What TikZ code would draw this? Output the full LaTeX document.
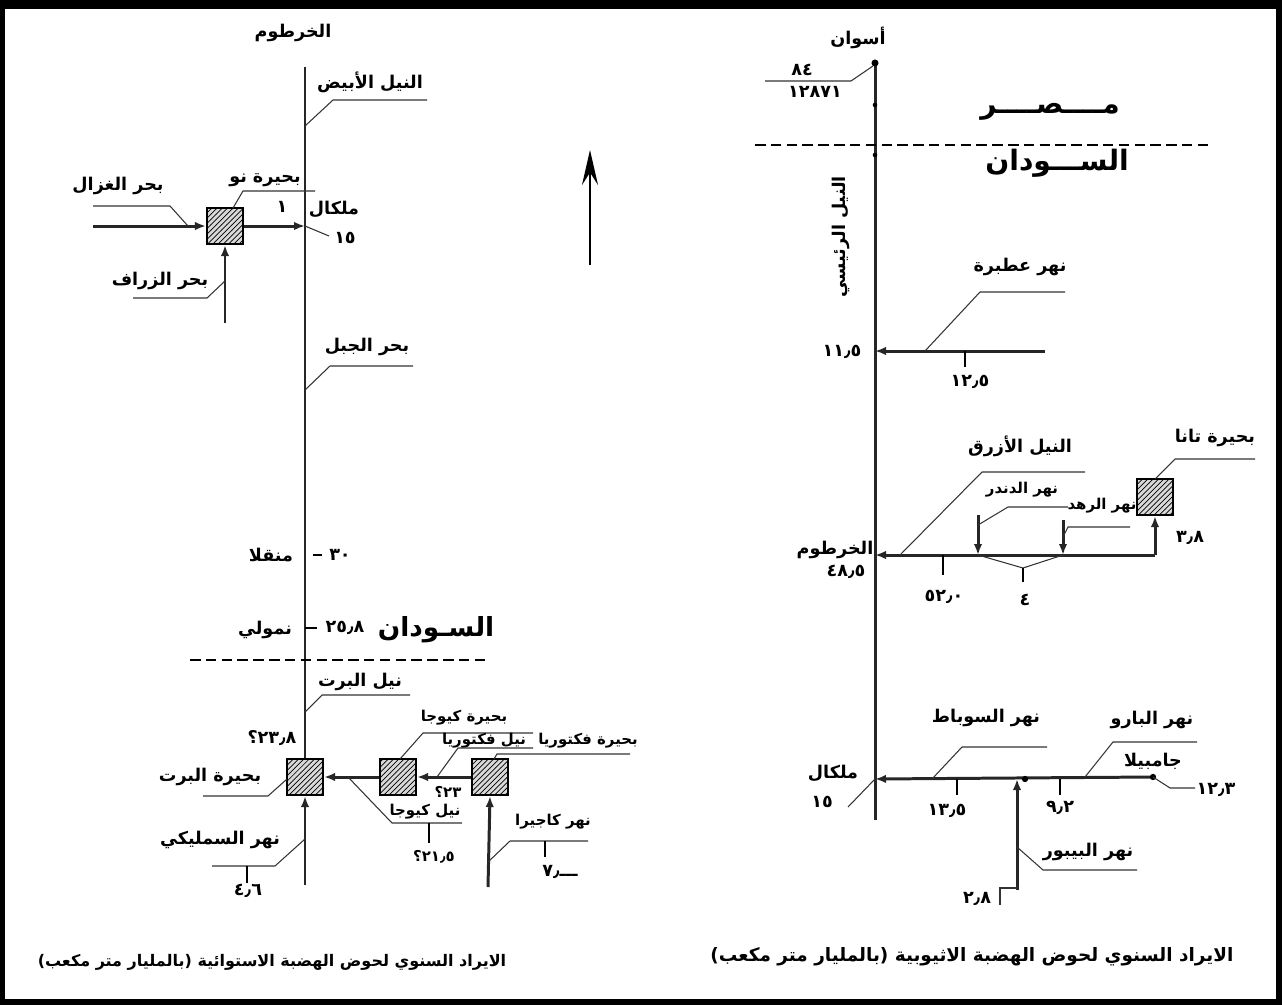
\documentclass[tikz,border=0pt]{standalone}
\usepackage{fontspec}
\usetikzlibrary{arrows.meta,patterns}
\newfontfamily\arabicfont[Script=Arabic]{DejaVu Sans}
\TeXXeTstate=1
\newcommand{\atxt}[1]{{\arabicfont\beginR #1\endR}}
\newcommand{\anum}[1]{{\arabicfont #1}}

\begin{document}
\begin{tikzpicture}[x=0.02cm,y=-0.02cm,
  lbl/.style={inner sep=0pt,font=\fontsize{10}{12}\selectfont\bfseries},
  sm/.style={lbl,font=\fontsize{8.5}{10}\selectfont\bfseries},
  big/.style={inner sep=0pt,font=\fontsize{16}{19}\selectfont\bfseries},
  captxt/.style={inner sep=0pt,font=\fontsize{10.5}{13}\selectfont\bfseries},
  riv/.style={line width=1.7pt,black!85},
  ld/.style={line width=0.6pt,black!80},
  tk/.style={line width=1pt},
  ar/.style={-{Latex[length=2.2mm,width=1.7mm]}},
  lake/.style={draw,line width=1.2pt,minimum size=0.72cm,inner sep=0pt,fill=gray!30,postaction={pattern=north east lines}},
  bord/.style={dashed,dash pattern=on 6pt off 3pt,line width=0.7pt}]
\useasboundingbox (0,0) rectangle (1282,1005);
% frame
\fill (0,0) rectangle (1282,9);
\draw[line width=3pt] (2,3) rectangle (1279,1002);

% ---------------- left: equatorial plateau
\coordinate (wtop) at (305,67);
\coordinate (wbot) at (305,885);
\node[lake] (no) at (225,226) {};
\node[lake] (albert) at (305,777) {};
\node[lake] (kyoga) at (398,777) {};
\node[lake] (victoria) at (490,777) {};
\coordinate (mk) at (305,226);
\coordinate (gz) at (93,226);
\coordinate (zr) at (225,323);
\coordinate (kg) at (488,887);
\draw[riv] (wtop) -- (albert.north);
\draw[riv,ar] (wbot) -- (albert.south);
\draw[riv,ar] (gz) -- (no.west);
\draw[riv,ar] (no.east) -- (mk);
\draw[riv,ar] (zr) -- (no.south);
\draw[riv,ar] (kyoga.west) -- (albert.east);
\draw[riv,ar] (victoria.west) -- (kyoga.east);
\draw[riv,ar] (kg) -- (victoria.south);

\node[lbl] (khl) at (293,33) {\atxt{الخرطوم}};
\node[lbl] (wn) at (370,82) {\atxt{النيل الأبيض}};
\draw[ld] (305,126) -- ++(28,-26) -- ++(94,0);
\node[lbl] (nol) at (265,180) {\atxt{بحيرة نو}};
\draw[ld] (233,208) -- ++(10,-17) -- ++(72,0);
\node[lbl] (gzl) at (118,186) {\atxt{بحر الغزال}};
\draw[ld] (188,226) -- ++(-18,-20) -- ++(-77,0);
\node[lbl] (one) at (282,207) {\anum{١}};
\node[lbl] (mkl) at (334,209) {\atxt{ملكال}};
\node[lbl] (mkn) at (345,238) {\anum{١٥}};
\draw[ld] (mk) -- (329,236);
\node[lbl] (zrl) at (160,281) {\atxt{بحر الزراف}};
\draw[ld] (225,281) -- ++(-18,17) -- ++(-74,0);
\node[lbl] (jbl) at (367,347) {\atxt{بحر الجبل}};
\draw[ld] (305,390) -- ++(25,-24) -- ++(83,0);
\draw[tk] (313,555) -- (322,555);
\node[lbl] (n30) at (340,555) {\anum{٣٠}};
\node[lbl] (mgl) at (271,555) {\atxt{منقلا}};
\draw[tk] (305,628) -- (317,628);
\node[lbl] (n258) at (345,628) {\anum{٢٥٫٨}};
\node[lbl] (nml) at (265,630) {\atxt{نمولي}};
\node[big,font=\fontsize{15}{18}\selectfont\bfseries] (sdl) at (436,630) {\atxt{السـودان}};
\draw[bord] (190,660) -- (487,660);
\node[lbl] (anl) at (360,682) {\atxt{نيل البرت}};
\draw[ld] (305,712) -- ++(17,-17) -- ++(88,0);
\node[lbl] (n238) at (272,738) {\anum{\hbox{؟}\hbox{٢٣٫٨}}};
\node[lbl] (all) at (210,777) {\atxt{بحيرة البرت}};
\draw[ld] (287,779) -- ++(-19,17) -- ++(-65,0);
\node[sm] (kgn) at (425,812) {\atxt{نيل كيوجا}};
\draw[ld] (348,777) -- ++(44,46) -- ++(70,0);
\draw[tk] (429,823) -- (429,843);
\node[sm] (n215) at (434,857) {\anum{\hbox{؟}\hbox{٢١٫٥}}};
\node[sm] (n32) at (448,792) {\anum{\hbox{؟}\hbox{٢٣}}};
\node[sm] (kgl) at (464,718) {\atxt{بحيرة كيوجا}};
\draw[ld] (400,759) -- ++(23,-26) -- ++(110,0);
\node[sm] (vnl) at (484,741) {\atxt{نيل فكتوريا}};
\draw[ld] (437,777) -- ++(21,-29) -- ++(75,0);
\node[sm] (vcl) at (588,741) {\atxt{بحيرة فكتوريا}};
\draw[ld] (494,759) -- ++(3,-5) -- ++(133,0);
\node[sm] (kgr) at (553,822) {\atxt{نهر كاجيرا}};
\draw[ld] (488,862) -- ++(22,-21) -- ++(78,0);
\draw[tk] (545,841) -- (545,857);
\node[lbl] (n7) at (560,872) {\anum{\hbox{٧٫}\hbox{ـــ}}};
\node[lbl] (sml) at (220,840) {\atxt{نهر السمليكي}};
\draw[ld] (305,839) -- ++(-30,27) -- ++(-63,0);
\draw[tk] (247,866) -- (247,883);
\node[lbl] (n46) at (248,891) {\anum{٤٫٦}};

% north arrow
\coordinate (nta) at (590,265);
\coordinate (ntb) at (590,150);
\draw[line width=1.4pt,-{Stealth[length=7mm,width=3.2mm,inset=2.5mm]}] (nta) -- (ntb);

% ---------------- right: ethiopian plateau
\coordinate (ntop) at (875,63);
\coordinate (nbot) at (875,820);
\draw[riv] (ntop) -- (nbot);
\fill (ntop) circle (2pt);
\fill (875,105) circle (1.3pt);
\fill (875,155) circle (1.3pt);
\node[lbl] (asw) at (858,38) {\atxt{أسوان}};
\node[lbl] (n84) at (802,70) {\anum{٨٤}};
\draw[ld] (873,66) -- ++(-22,15) -- ++(-86,0);
\node[lbl] (nasw) at (815,92) {\anum{١٢٨٧١}};
\node[big] (egl) at (1050,112) {\atxt{مــــصــــر}};
\draw[bord] (755,145) -- (1208,145);
\node[big] (sdr) at (1057,163) {\atxt{الســـودان}};
\node[lbl,rotate=90] (mnl) at (841,237) {\atxt{النيل الرئيسي}};

\coordinate (atb) at (1045,351);
\coordinate (atj) at (875,351);
\draw[riv,ar] (atb) -- (atj);
\node[lbl] (atl) at (1020,267) {\atxt{نهر عطبرة}};
\draw[ld] (925,351) -- ++(55,-59) -- ++(85,0);
\draw[tk] (965,351) -- (965,367);
\node[lbl] (n125) at (970,382) {\anum{١٢٫٥}};
\node[lbl] (n115) at (842,352) {\anum{١١٫٥}};

\node[lake] (tana) at (1155,497) {};
\coordinate (bnc) at (1155,555);
\coordinate (bnj) at (875,555);
\draw[riv,ar] (bnc) -- (tana.south);
\draw[riv,ar] (bnc) -- (bnj);
\node[lbl] (bnl) at (1020,446) {\atxt{النيل الأزرق}};
\draw[ld] (900,555) -- ++(82,-83) -- ++(103,0);
\node[lbl] (tnl) at (1215,438) {\atxt{بحيرة تانا}};
\draw[ld] (1155,479) -- ++(20,-20) -- ++(80,0);
\node[lbl] (n38) at (1190,538) {\anum{٣٫٨}};
\coordinate (din) at (978,515);
\coordinate (dinj) at (978,555);
\draw[riv,ar] (din) -- (dinj);
\node[sm] (dnl) at (1022,490) {\atxt{نهر الدندر}};
\draw[ld] (978,525) -- ++(30,-18) -- ++(60,0);
\coordinate (rhd) at (1063,520);
\coordinate (rhdj) at (1063,555);
\draw[riv,ar] (rhd) -- (rhdj);
\node[sm] (rhl) at (1102,506) {\atxt{نهر الرهد}};
\draw[ld] (1063,537) -- ++(5,-10) -- ++(62,0);
\draw[ld] (dinj) -- (1023,568) -- (rhdj);
\draw[tk] (1023,568) -- (1023,582);
\node[lbl] (n4) at (1025,600) {\anum{٤}};
\draw[tk] (943,555) -- (943,575);
\node[lbl] (n520) at (944,597) {\anum{٥٢٫٠}};
\node[lbl] (khr) at (835,550) {\atxt{الخرطوم}};
\node[lbl] (n485) at (846,572) {\anum{٤٨٫٥}};

\coordinate (sbe) at (1153,777);
\coordinate (sbj) at (875,779);
\draw[riv,ar] (sbe) -- (sbj);
\fill (sbe) circle (1.8pt);
\fill (1025,779) circle (1.8pt);
\draw[ld] (sbe) -- (1170,788) -- (1195,788);
\node[lbl] (n123) at (1216,790) {\anum{١٢٫٣}};
\node[lbl] (mkr) at (833,773) {\atxt{ملكال}};
\node[lbl] (mkrn) at (822,802) {\anum{١٥}};
\draw[ld] (sbj) -- (848,807);
\node[lbl] (sbl) at (986,718) {\atxt{نهر السوباط}};
\draw[ld] (932,779) -- ++(30,-32) -- ++(85,0);
\draw[tk] (957,779) -- (957,795);
\node[lbl] (n135) at (947,811) {\anum{١٣٫٥}};
\coordinate (pib) at (1017,890);
\coordinate (pibj) at (1017,779);
\draw[riv,ar] (pib) -- (pibj);
\node[lbl] (pbl) at (1088,852) {\atxt{نهر البيبور}};
\draw[ld] (1017,847) -- ++(26,23) -- ++(94,0);
\node[lbl] (n28) at (977,899) {\anum{٢٫٨}};
\draw[ld] (1017,888) -- (1000,888) -- (1000,905);
\draw[tk] (1060,779) -- (1060,795);
\node[lbl] (n92) at (1060,808) {\anum{٩٫٢}};
\node[lbl] (brl) at (1152,720) {\atxt{نهر البارو}};
\draw[ld] (1085,777) -- ++(28,-35) -- ++(84,0);
\node[lbl] (gml) at (1153,761) {\atxt{جامبيلا}};

% captions
\node[captxt,font=\fontsize{9.1}{11}\selectfont\bfseries] (capl) at (272,962) {\atxt{الايراد السنوي لحوض الهضبة الاستوائية (بالمليار متر مكعب)}};
\node[captxt] (capr) at (972,957) {\atxt{الايراد السنوي لحوض الهضبة الاثيوبية (بالمليار متر مكعب)}};
\end{tikzpicture}
\end{document}
